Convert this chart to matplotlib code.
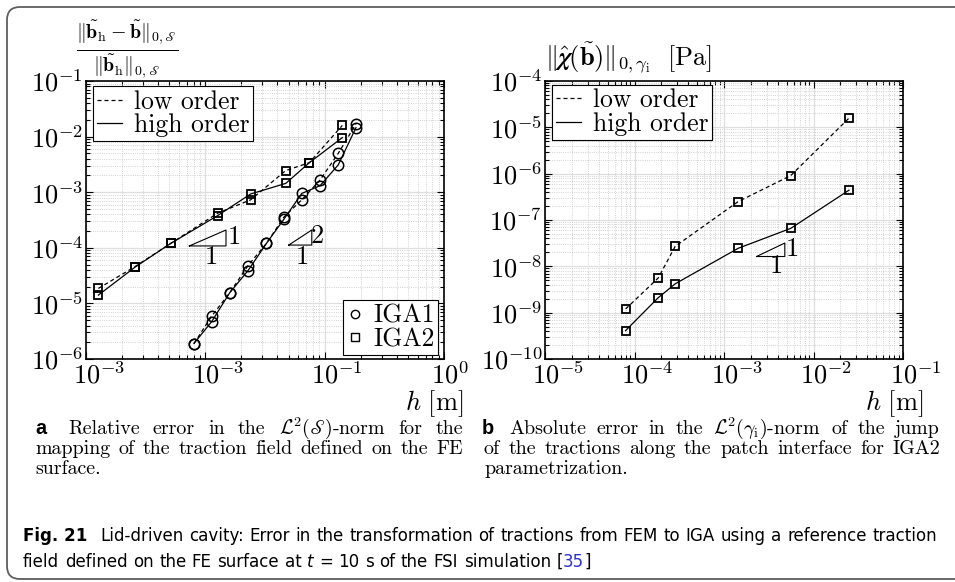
import os

import numpy as np
import matplotlib
matplotlib.use("Agg")
import matplotlib.pyplot as plt
from matplotlib import font_manager, mathtext
from matplotlib.font_manager import FontProperties
from matplotlib.lines import Line2D
from matplotlib.patches import FancyBboxPatch
from matplotlib.ticker import FixedFormatter, FixedLocator, LogLocator, NullFormatter
from matplotlib.transforms import IdentityTransform, ScaledTranslation

# ---- data ----
# (a) relative error, IGA2 parametrization (squares)
h_iga2 = [1.27e-3, 2.58e-3, 5.13e-3, 1.27e-2, 2.4e-2, 4.72e-2, 7.45e-2, 1.406e-1]
err_iga2_low = [1.86e-5, 4.6e-5, 1.2e-4, 4.2e-4, 7.3e-4, 2.45e-3, 3.4e-3, 1.59e-2]
err_iga2_high = [1.41e-5, 4.5e-5, 1.2e-4, 3.8e-4, 9.3e-4, 1.44e-3, 3.4e-3, 9.6e-3]

# (a) relative error, IGA1 parametrization (circles)
h_iga1 = [8.03e-3, 1.13e-2, 1.6e-2, 2.28e-2, 3.25e-2, 4.57e-2, 6.43e-2, 9.15e-2, 1.3e-1, 1.83e-1]
err_iga1_low = [1.9e-6, 5.9e-6, 1.55e-5, 4.8e-5, 1.2e-4, 3.6e-4, 7.3e-4, 1.66e-3, 5.0e-3, 1.69e-2]
err_iga1_high = [1.9e-6, 4.7e-6, 1.55e-5, 3.9e-5, 1.2e-4, 3.3e-4, 9.5e-4, 1.31e-3, 3.1e-3, 1.45e-2]

# (b) absolute error of the jump, IGA2
h_jump = [7.95e-5, 1.84e-4, 2.85e-4, 1.44e-3, 5.57e-3, 2.49e-2]
jump_low = [1.2e-9, 5.6e-9, 2.7e-8, 2.5e-7, 9.1e-7, 1.58e-5]
jump_high = [4.1e-10, 2.1e-9, 4.2e-9, 2.45e-8, 6.6e-8, 4.4e-7]

# axis ranges and tick labels (left x labels as printed in the original)
xlim_a, ylim_a = (1e-3, 1e0), (1e-6, 1e-1)
xlim_b, ylim_b = (1e-5, 1e-1), (1e-10, 1e-4)
xticks_a = [1e-3, 1e-2, 1e-1, 1e0]
xlabels_a = [r"$10^{-3}$", r"$10^{-3}$", r"$10^{-1}$", r"$10^{0}$"]
xticks_b = [1e-5, 1e-4, 1e-3, 1e-2, 1e-1]
xlabels_b = [r"$10^{-5}$", r"$10^{-4}$", r"$10^{-3}$", r"$10^{-2}$", r"$10^{-1}$"]

# slope triangles
tri1_x, tri1_y = [7.35e-3, 1.49e-2, 1.49e-2, 7.35e-3], [1.08e-4, 1.08e-4, 2.09e-4, 1.08e-4]
tri2_x, tri2_y = [5.0e-2, 7.8e-2, 7.8e-2, 5.0e-2], [1.12e-4, 1.12e-4, 2.09e-4, 1.12e-4]
tri3_x, tri3_y = [2.31e-3, 4.78e-3, 4.78e-3, 2.31e-3], [1.63e-8, 1.63e-8, 3.18e-8, 1.63e-8]

W, H = 955, 582
plt.rcParams["mathtext.fontset"] = "cm"
plt.rcParams["font.family"] = ["cmr10", "DejaVu Serif"]
plt.rcParams["axes.unicode_minus"] = False


def fx(x):
    return x / W


def fy(y):
    return 1 - y / H


def has_font(name):
    try:
        font_manager.findfont(name, fallback_to_default=False)
        return True
    except ValueError:
        return False


def safe_math(s, fallback):
    try:
        mathtext.MathTextParser("path").parse(s, dpi=72)
        return s
    except Exception:
        return fallback


def find_condensed():
    # look for a narrow sans face (regular / bold / italic) among installed fonts
    prefs = ["LiberationSansNarrow", "DejaVuSansCondensed", "NotoSans-Condensed", "NotoSansCondensed",
             "OpenSans_Condensed", "OpenSansCondensed", "Roboto_Condensed", "RobotoCondensed"]
    found = {}
    for f in font_manager.fontManager.ttflist:
        base = os.path.basename(f.fname)
        if "Serif" in base or "Mono" in base:
            continue
        for rank, p in enumerate(prefs):
            if base.replace("-", "").startswith(p.replace("-", "")):
                italic = "Italic" in base or "Oblique" in base or f.style != "normal"
                wt = f.weight if isinstance(f.weight, int) else 400
                key = ("bold" if wt >= 600 else "regular" if wt <= 450 else None, italic)
                if key[0] is None:
                    continue
                cur = found.setdefault(rank, {})
                if key not in cur or (wt in (400, 700)):
                    cur[key] = f.fname
    for rank in sorted(found):
        d = found[rank]
        if ("regular", False) in d:
            return d
    return None


scr_S = safe_math(r"$\mathscr{S}$", r"$\mathcal{S}$")[1:-1]
chi = safe_math(r"$\boldsymbol{\chi}$", r"$\chi$")[1:-1]

fig = plt.figure(figsize=(W / 100, H / 100), dpi=100)
axL = fig.add_axes([fx(86), fy(359), (444 - 86) / W, (359 - 81) / H])
axR = fig.add_axes([fx(545), fy(359), (903 - 545) / W, (359 - 81) / H])


def style(ax, xlim, ylim, xt, xl):
    ax.set_xscale("log")
    ax.set_yscale("log")
    ax.set_xlim(*xlim)
    ax.set_ylim(*ylim)
    ax.xaxis.set_major_locator(FixedLocator(xt))
    ax.xaxis.set_major_formatter(FixedFormatter(xl))
    e0, e1 = int(round(np.log10(ylim[0]))), int(round(np.log10(ylim[1])))
    yt = [10.0 ** k for k in range(e0, e1 + 1)]
    ax.yaxis.set_major_locator(FixedLocator(yt))
    ax.yaxis.set_major_formatter(FixedFormatter([r"$10^{%d}$" % k for k in range(e0, e1 + 1)]))
    for a in (ax.xaxis, ax.yaxis):
        a.set_minor_locator(LogLocator(base=10, subs=np.arange(2, 10), numticks=30))
        a.set_minor_formatter(NullFormatter())
    ax.tick_params(which="both", direction="in", top=True, right=True, width=0.8, labelsize=19)
    ax.tick_params(which="major", length=5, pad=2)
    ax.tick_params(which="minor", length=3)
    ax.grid(True, which="major", color="#dedede", lw=0.9)
    ax.grid(True, which="minor", color="#c4c4c4", ls=":", lw=0.6)
    ax.set_axisbelow(True)
    for sp in ax.spines.values():
        sp.set_linewidth(1.2)
    # MATLAB puts the "10" of each label under the tick
    for lab in ax.get_xticklabels():
        lab.set_horizontalalignment("left")
        lab.set_transform(lab.get_transform() + ScaledTranslation(-9.5 / 72, 0, fig.dpi_scale_trans))


style(axL, xlim_a, ylim_a, xticks_a, xlabels_a)
style(axR, xlim_b, ylim_b, xticks_b, xlabels_b)

lw = 0.9
dash = (3.2, 2.4)
sq = dict(marker="s", ms=5.5, mfc="none", mec="k", mew=1.3)
ci = dict(marker="o", ms=7.5, mfc="none", mec="k", mew=1.1)

axL.plot(h_iga2, err_iga2_low, color="k", lw=lw, ls="--", dashes=dash, **sq)
axL.plot(h_iga2, err_iga2_high, color="k", lw=lw, **sq)
axL.plot(h_iga1, err_iga1_low, color="k", lw=lw, ls="--", dashes=dash, **ci)
axL.plot(h_iga1, err_iga1_high, color="k", lw=lw, **ci)

axR.plot(h_jump, jump_low, color="k", lw=lw, ls="--", dashes=dash, **sq)
axR.plot(h_jump, jump_high, color="k", lw=lw, **sq)

# slope triangles
axL.plot(tri1_x, tri1_y, color="k", lw=0.8)
axL.text(1.71e-2, 1.56e-4, "$1$", fontsize=19, ha="center", va="center")
axL.text(1.11e-2, 6.8e-5, "$1$", fontsize=19, ha="center", va="center")
axL.plot(tri2_x, tri2_y, color="k", lw=0.8)
axL.text(8.6e-2, 1.63e-4, "$2$", fontsize=19, ha="center", va="center")
axL.text(6.4e-2, 6.9e-5, "$1$", fontsize=19, ha="center", va="center")
axR.plot(tri3_x, tri3_y, color="k", lw=0.8)
axR.text(5.66e-3, 2.3e-8, "$1$", fontsize=19, ha="center", va="center")
axR.text(3.76e-3, 1.0e-8, "$1$", fontsize=19, ha="center", va="center")

# legends
order_handles = [Line2D([], [], color="k", lw=lw, ls="--", dashes=dash), Line2D([], [], color="k", lw=lw)]
leg_kw = dict(fontsize=18.5, handlelength=1.0, handletextpad=0.45, borderpad=0.15,
              labelspacing=0.0, fancybox=False, edgecolor="k", framealpha=1, borderaxespad=0)
for ax, anchor in ((axL, (0.019, 0.982)), (axR, (0.019, 0.986))):
    lg = ax.legend(order_handles, ["low order", "high order"], loc="upper left",
                   bbox_to_anchor=anchor, **leg_kw)
    lg.get_frame().set_linewidth(0.8)
    ax.add_artist(lg)

param_handles = [Line2D([], [], ls="none", marker="o", ms=6, mfc="none", mec="k", mew=1.0),
                 Line2D([], [], ls="none", marker="s", ms=5.5, mfc="none", mec="k", mew=1.0)]
lg2 = axL.legend(param_handles, ["IGA1", "IGA2"], loc="lower right", bbox_to_anchor=(0.984, 0.014),
                 **{**leg_kw, "handlelength": 0.6, "handletextpad": 0.4})
lg2.get_frame().set_linewidth(0.8)

# axis labels
num = r"\|\tilde{\mathbf{b}}_\mathrm{h}-\tilde{\mathbf{b}}\|_{0,%s}" % scr_S
den = r"\|\tilde{\mathbf{b}}_\mathrm{h}\|_{0,%s}" % scr_S
fig.text(fx(127), fy(50), r"$\frac{%s}{%s}$" % (num, den), fontsize=20.5, ha="center", va="center")
fig.text(fx(545), fy(58), r"$\|\hat{%s}(\tilde{\mathbf{b}})\|_{0,\gamma_\mathrm{i}}\ \ \mathrm{[Pa]}$" % chi,
         fontsize=19, ha="left", va="center")
fig.text(fx(463), fy(404), r"$h\ \mathrm{[m]}$", fontsize=19, ha="right", va="center")
fig.text(fx(923), fy(404), r"$h\ \mathrm{[m]}$", fontsize=19, ha="right", va="center")

# ---- captions ----
r = fig.canvas.get_renderer()


def width_of(s, **kw):
    t = fig.text(0, 0, s, **kw)
    w = t.get_window_extent(r).width
    t.remove()
    return w


def words(s):
    return [[(w, {})] for w in s.split()]


def place(y, x0, x1, wl, base, justify=True):
    arts, widths = [], []
    for w in wl:
        parts, tw = [], 0
        for s, kw in w:
            kk = dict(base)
            kk.update(kw)
            t = fig.text(0, 0, s, ha="left", va="baseline", **kk)
            wp = t.get_window_extent(r).width
            parts.append((t, wp))
            tw += wp
        arts.append(parts)
        widths.append(tw)
    size = base["fontproperties"].get_size() if "fontproperties" in base else base["fontsize"]
    space = 0.3 * size * 100 / 72
    if justify and len(wl) > 1:
        gap = max((x1 - x0 - sum(widths)) / (len(wl) - 1), 0.6 * space)
    else:
        gap = space
    x = x0
    for parts in arts:
        for t, wp in parts:
            t.set_position((fx(x), fy(y)))
            x += wp
        x += gap


serif = ["cmr10", "DejaVu Serif"]
ref = "mapping of the traction field defined on the FE"
cs = 0.97 * 10 * 428 / width_of(ref, fontsize=10, fontfamily=serif)
label_font = "Liberation Sans" if has_font("Liberation Sans") else "DejaVu Sans"
sbase = dict(fontsize=cs, fontfamily=serif, color="k")

cap_y = [434, 454, 474]
fig.text(fx(35), fy(cap_y[0]), "a", fontsize=cs, fontfamily=label_font, fontweight="bold", va="baseline")
place(cap_y[0], 68, 463, words(r"Relative error in the $\mathcal{L}^2(%s)$-norm for the" % scr_S), sbase)
place(cap_y[1], 35, 463, words(ref), sbase)
place(cap_y[2], 35, 463, words("surface."), sbase, justify=False)

fig.text(fx(482), fy(cap_y[0]), "b", fontsize=cs, fontfamily=label_font, fontweight="bold", va="baseline")
place(cap_y[0], 509, 940, words(r"Absolute error in the $\mathcal{L}^2(\gamma_\mathrm{i})$-norm of the jump"), sbase)
place(cap_y[1], 484, 940, words("of the tractions along the patch interface for IGA2"), sbase)
place(cap_y[2], 484, 940, words("parametrization."), sbase, justify=False)

# figure caption in a narrow sans face if one is installed
cond = find_condensed()
line1 = "Lid-driven cavity: Error in the transformation of tractions from FEM to IGA using a reference traction"
if cond:
    fp_reg = FontProperties(fname=cond[("regular", False)])
    fp_bold = FontProperties(fname=cond.get(("bold", False), cond[("regular", False)]))
    fp_ital = FontProperties(fname=cond.get(("regular", True), cond[("regular", False)]))
else:
    fp_reg = FontProperties(family=label_font)
    fp_bold = FontProperties(family=label_font, weight="bold")
    fp_ital = FontProperties(family=label_font, style="italic")
fp_reg.set_size(10)
fs = min(10 * 832 / width_of(line1, fontproperties=fp_reg), 14.5)
for fp in (fp_reg, fp_bold, fp_ital):
    fp.set_size(fs)

fig.text(fx(23), fy(541), "Fig. 21", fontproperties=fp_bold, va="baseline")
cbase = dict(fontproperties=fp_reg, color="k")
place(541, 100, 937, words(line1), cbase)
line2 = words("field defined on the FE surface at") + [[("t", {"fontproperties": fp_ital})]] + \
    words("= 10 s of the FSI simulation") + [[("[", {}), ("35", {"color": "#2f2fd8"}), ("]", {})]]
place(567, 23, 937, line2, cbase, justify=False)

# rounded frame around the figure panel
frame = FancyBboxPatch((7, 3), 1000, 572, boxstyle="round,pad=0,rounding_size=13",
                       transform=IdentityTransform(), fill=False, edgecolor="#5e5e5e", lw=1.3)
fig.add_artist(frame)

fig.savefig("out.png", dpi=100)
